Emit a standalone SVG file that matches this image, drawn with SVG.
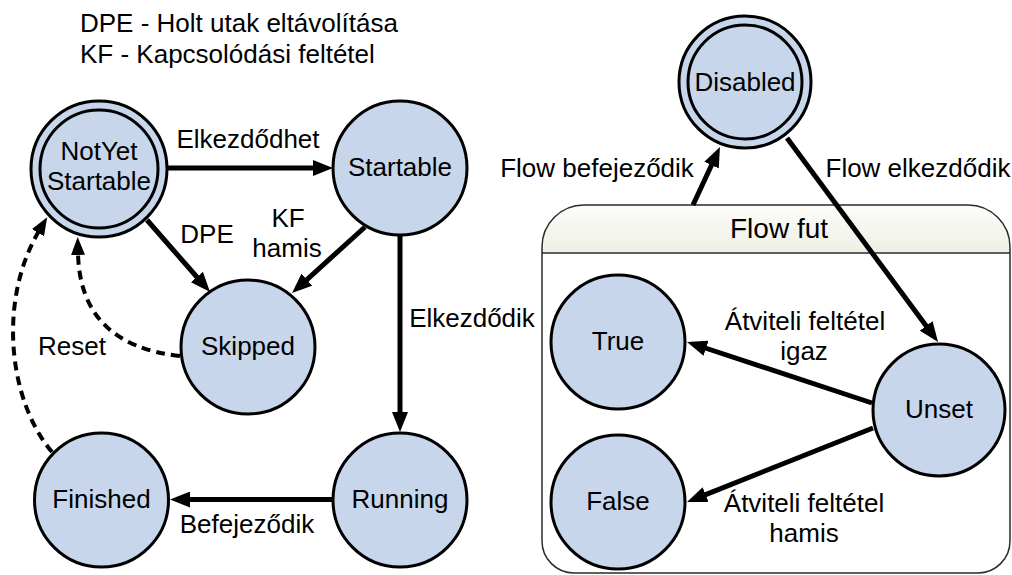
<svg xmlns="http://www.w3.org/2000/svg" width="1012" height="575" viewBox="0 0 1012 575">
<defs>
<style>
text{font-family:"Liberation Sans",Arial,sans-serif;font-size:26px;fill:#000}
.c{text-anchor:middle}
.st{fill:#c7d6eb;stroke:#000;stroke-width:3}
.ed{fill:none;stroke:#000;stroke-width:5}
.da{fill:none;stroke:#000;stroke-width:4;stroke-dasharray:9 6}
</style>
<marker id="ah" markerUnits="userSpaceOnUse" viewBox="0 0 20 16" markerWidth="20" markerHeight="16" refX="4" refY="8" orient="auto">
<path d="M0,0 L20,8 L0,16 z" fill="#000"/>
</marker>
<marker id="ahs" markerUnits="userSpaceOnUse" viewBox="0 0 18 14" markerWidth="18" markerHeight="14" refX="2" refY="7" orient="auto">
<path d="M0,0 L18,7 L0,14 z" fill="#000"/>
</marker>
<linearGradient id="hdr" x1="0" y1="0" x2="0" y2="1">
<stop offset="0" stop-color="#fcfcfa"/>
<stop offset="1" stop-color="#efefe5"/>
</linearGradient>
</defs>
<g id="legend">
<text x="80" y="32">DPE - Holt utak eltávolítása</text>
<text x="80" y="63">KF - Kapcsolódási feltétel</text>
</g>
<g id="flowfut">
<path d="M542,253 A42,42 0 0 1 584,205 L968,205 A42,42 0 0 1 1010,247 L1010,253 Z" fill="url(#hdr)"/>
<path d="M542,253 L542,541 A32,32 0 0 0 574,573 L978,573 A32,32 0 0 0 1010,541 L1010,253 Z" fill="#fff"/>
<path d="M542,253 L542,247 A42,42 0 0 1 584,205 L968,205 A42,42 0 0 1 1010,247 L1010,541 A32,32 0 0 1 978,573 L574,573 A32,32 0 0 1 542,541 Z M542,253 L1010,253" fill="none" stroke="#2b2b2b" stroke-width="1.5"/>
<text class="c" x="779" y="238" style="font-size:28px">Flow fut</text>
</g>
<g id="connectors">
<path class="ed" d="M167,168 L317,168" marker-end="url(#ah)"/>
<path class="ed" d="M147,220 L199.5,280" marker-end="url(#ah)"/>
<path class="ed" d="M365,227 L303.9,282.3" marker-end="url(#ah)"/>
<path class="ed" d="M400,235 L400,416" marker-end="url(#ah)"/>
<path class="ed" d="M333,499.5 L186,499.5" marker-end="url(#ah)"/>
<path class="da" d="M180,356 Q80,345 78,253" marker-end="url(#ahs)"/>
<path class="da" d="M52,452 C8,400 -2,300 39,231" marker-end="url(#ahs)"/>
<path class="ed" d="M693,205 L713.2,161.5" marker-end="url(#ah)"/>
<path class="ed" d="M787,138 L928.5,329.1" marker-end="url(#ah)"/>
<path class="ed" d="M872,403 L702.2,347" marker-end="url(#ah)"/>
<path class="ed" d="M873,428 L701.9,496.1" marker-end="url(#ah)"/>
<text class="c" x="248" y="148">Elkezdődhet</text>
<text class="c" x="207" y="243">DPE</text>
<text class="c" x="288" y="227">KF</text>
<text class="c" x="287" y="257">hamis</text>
<text class="c" x="72" y="355">Reset</text>
<text class="c" x="472" y="327">Elkezdődik</text>
<text class="c" x="247" y="533">Befejeződik</text>
<text class="c" x="597" y="177">Flow befejeződik</text>
<text class="c" x="918" y="177">Flow elkezdődik</text>
<text class="c" x="805" y="330">Átviteli feltétel</text>
<text class="c" x="804" y="360">igaz</text>
<text class="c" x="804" y="512">Átviteli feltétel</text>
<text class="c" x="804" y="542">hamis</text>
</g>
<g id="notyet">
<circle class="st" cx="99" cy="169" r="68"/>
<circle class="st" cx="99" cy="169" r="59"/>
<text class="c" x="99" y="160">NotYet</text>
<text class="c" x="99" y="190">Startable</text>
</g>
<g id="startable">
<circle class="st" cx="400" cy="168" r="67"/>
<text class="c" x="400" y="176">Startable</text>
</g>
<g id="skipped">
<circle class="st" cx="248" cy="347" r="67"/>
<text class="c" x="248" y="355">Skipped</text>
</g>
<g id="finished">
<circle class="st" cx="101.5" cy="500" r="67"/>
<text class="c" x="101.5" y="508">Finished</text>
</g>
<g id="running">
<circle class="st" cx="400" cy="500" r="67"/>
<text class="c" x="400" y="508">Running</text>
</g>
<g id="disabled">
<circle class="st" cx="745" cy="82" r="66"/>
<circle class="st" cx="745" cy="82" r="57"/>
<text class="c" x="745" y="91">Disabled</text>
</g>
<g id="true">
<circle class="st" cx="618" cy="342" r="67"/>
<text class="c" x="618" y="350">True</text>
</g>
<g id="false">
<circle class="st" cx="618" cy="502" r="67"/>
<text class="c" x="618" y="510">False</text>
</g>
<g id="unset">
<circle class="st" cx="939" cy="410" r="66"/>
<text class="c" x="939" y="418">Unset</text>
</g>
</svg>
